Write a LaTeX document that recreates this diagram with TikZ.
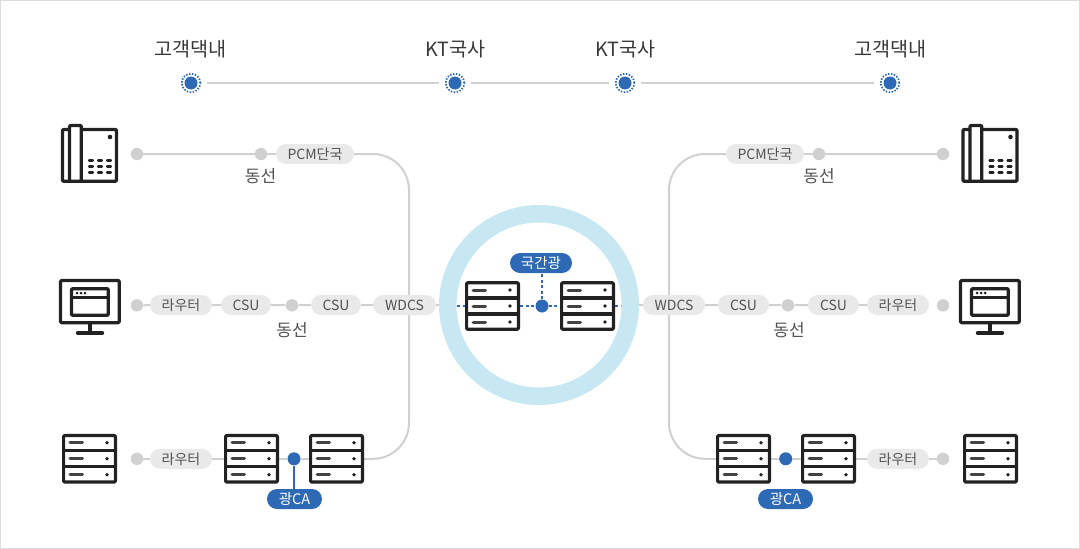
\documentclass[tikz,border=0pt]{standalone}
\usepackage{fontspec}
\setmainfont{Noto Sans CJK KR}
\usetikzlibrary{backgrounds}
\definecolor{bluec}{HTML}{2D69B5}
\definecolor{grayl}{HTML}{D0D0D0}
\definecolor{pillc}{HTML}{E9E9E9}
\definecolor{ringc}{HTML}{C7E8F3}
\definecolor{inkc}{HTML}{222222}
\definecolor{frame}{HTML}{DDDDDD}
\tikzset{
  pill/.style={rounded corners=10pt,fill=pillc,text=black!68,minimum height=20pt,inner sep=0pt,font=\fontsize{14}{14}\selectfont,text height=13.5pt,text depth=2.5pt},
  bluepill/.style={rounded corners=10pt,fill=bluec,text=white,minimum height=20pt,inner sep=0pt,font=\fontsize{14.5}{14}\selectfont,text height=13.5pt,text depth=2.5pt},
  graydot/.style={circle,fill=grayl,minimum size=12.4pt,inner sep=0pt},
  bluedot/.style={circle,fill=bluec,minimum size=13pt,inner sep=0pt},
  dotring/.style={circle,draw=bluec,line width=1.7pt,dash pattern=on 1.5pt off 1.5pt,minimum size=18.5pt,inner sep=0pt},
  wire/.style={draw=grayl,line width=2pt},
  bluewire/.style={draw=bluec,line width=2pt},
  bluedash/.style={draw=bluec,line width=2pt,dash pattern=on 3pt off 2.5pt},
  head/.style={text=black!78,inner sep=0pt,font=\fontsize{19.6}{20}\selectfont},
  sub/.style={text=black!68,inner sep=0pt,font=\fontsize{17}{17}\selectfont},
  ink/.style={draw=inkc,line width=3.2pt,line join=round},
  servbox/.style={ink,fill=white,rounded corners=1pt,minimum width=51.8pt,minimum height=46.5pt,inner sep=0pt},
}
\newcommand{\ServerIcon}[3]{%
  \node[servbox] (#1) at (#2,#3) {};
  \begin{scope}[shift={(#2,#3)}]
    \draw[ink] (-26,-8) -- (26,-8) (-26,8) -- (26,8);
    \foreach \ry in {-16,0,16}{
      \draw[inkc!85,line width=3pt,line cap=round] (-19.5,\ry) -- (-7,\ry);
      \fill[inkc] (17.5,\ry) circle (1.9pt);
    }
  \end{scope}}
\newcommand{\PhoneIcon}[2]{%
  \begin{scope}[shift={(#2,0)}]
    \node[ink,rounded corners=1pt,fill=white,minimum width=54pt,minimum height=51.8pt,inner sep=0pt] (#1) at (89.5,155.4) {};
    \draw[ink,fill=white,rounded corners=1pt] (69.5,181.3) -- (69.5,125.5) -- (81.3,125.5) -- (81.3,181.3) -- cycle;
    \fill[inkc] (110,137) circle (2.3pt);
    \foreach \ry in {160.7,166.6,172.3}\foreach \rx in {91,100,109}{
      \draw[inkc,line width=2.8pt,line cap=round] (\rx-1.8,\ry) -- (\rx+1.8,\ry);
    }
  \end{scope}}
\newcommand{\MonitorIcon}[2]{%
  \begin{scope}[shift={(#2,0)}]
    \node[ink,rounded corners=1pt,fill=white,minimum width=58.7pt,minimum height=42.2pt,inner sep=0pt] (#1) at (89.9,301.6) {};
    \draw[ink,rounded corners=1pt] (71.5,288.7) rectangle (108.3,315.3);
    \draw[ink] (71.5,297.5) -- (108.3,297.5);
    \foreach \rx in {77,81,85} \fill[inkc] (\rx,293) circle (1.5pt);
    \draw[ink] (90,323) -- (90,332);
    \draw[inkc,line width=3.4pt,line cap=round] (77.5,333) -- (102.5,333);
  \end{scope}}
\begin{document}
\begin{tikzpicture}[x=1pt,y=-1pt]
\useasboundingbox (0,0) rectangle (1080,549);
\draw[frame,line width=1pt] (0.5,0.5) rectangle (1079.5,548.5);

% header
\node[head] (h1) at (190.5,49.5) {고객댁내};
\node[head] (h2) at (455.5,49.5) {KT국사};
\node[head] (h3) at (625.5,49.5) {KT국사};
\node[head] (h4) at (890.5,49.5) {고객댁내};
\foreach \n/\x in {t1/191,t2/455,t3/625,t4/890}{
  \node[bluedot] (\n) at (\x,83) {};
  \node[dotring] (\n r) at (\x,83) {};
}

% ring
\node[circle,draw=ringc,line width=17.5pt,minimum size=182.5pt,inner sep=0pt] (ring) at (539,305) {};

% icons
\PhoneIcon{phoneL}{0}
\PhoneIcon{phoneR}{900.5}
\MonitorIcon{monL}{0}
\MonitorIcon{monR}{900}
\ServerIcon{srvL1}{89.5}{458.8}
\ServerIcon{srvL2}{251.5}{458.8}
\ServerIcon{srvL3}{336.5}{458.8}
\ServerIcon{srvC1}{492.5}{306}
\ServerIcon{srvC2}{587.5}{306}
\ServerIcon{srvR1}{743.5}{458.8}
\ServerIcon{srvR2}{828.5}{458.8}
\ServerIcon{srvR3}{990.5}{458.8}

% row 1
\node[graydot] (a1) at (137,154) {};
\node[graydot] (a2) at (261,154) {};
\node[pill,minimum width=78pt] (a3) at (315,154) {PCM단국};
\node[sub] (a4) at (260.5,176) {동선};
\node[pill,minimum width=78pt] (b3) at (765,154) {PCM단국};
\node[graydot] (b2) at (819,154) {};
\node[graydot] (b1) at (943,154) {};
\node[sub] (b4) at (819,176) {동선};

% row 2
\node[graydot] (c1) at (137,305.3) {};
\node[pill,minimum width=62pt] (c2) at (181,305) {라우터};
\node[pill,minimum width=50pt] (c3) at (246,305) {CSU};
\node[graydot] (c4) at (292,305.3) {};
\node[pill,minimum width=50pt] (c5) at (336,305) {CSU};
\node[pill,minimum width=63pt] (c6) at (404.5,305) {WDCS};
\node[sub] (c7) at (292,330) {동선};
\node[pill,minimum width=62pt] (d6) at (674,305) {WDCS};
\node[pill,minimum width=51pt] (d5) at (743.5,305) {CSU};
\node[graydot] (d4) at (788,305.3) {};
\node[pill,minimum width=51pt] (d3) at (833.5,305) {CSU};
\node[pill,minimum width=62pt] (d2) at (898,305) {라우터};
\node[graydot] (d1) at (943,305.3) {};
\node[sub] (d7) at (789,330) {동선};

% row 3
\node[graydot] (e1) at (137,458.8) {};
\node[pill,minimum width=62pt] (e2) at (181,458.8) {라우터};
\node[bluedot] (e3) at (294,458.8) {};
\node[bluepill,minimum width=55pt] (e4) at (294.5,499) {광CA};
\node[bluedot] (f3) at (785.7,458.8) {};
\node[bluepill,minimum width=55pt] (f4) at (785.5,499) {광CA};
\node[pill,minimum width=62pt] (f2) at (898,458.8) {라우터};
\node[graydot] (f1) at (943,458.8) {};

% centre
\node[bluedot] (g1) at (542,306) {};
\node[bluepill,minimum width=62pt] (g2) at (541,263) {국간광};
\coordinate (g3) at (457,306);
\coordinate (g4) at (622,306);
\coordinate (cL) at (409,305);
\coordinate (cR) at (669,305);

\begin{scope}[on background layer]
  \draw[wire,shorten <=9.5pt,shorten >=9.5pt] (t1) -- (t2);
  \draw[wire,shorten <=9.5pt,shorten >=9.5pt] (t2) -- (t3);
  \draw[wire,shorten <=9.5pt,shorten >=9.5pt] (t3) -- (t4);
  \draw[wire] (a1) -- (a2) -- (a3);
  \draw[wire,rounded corners=36pt] (a3.east) -| (cL) |- (srvL3.east);
  \draw[wire] (b1) -- (b2) -- (b3);
  \draw[wire,rounded corners=36pt] (b3.west) -| (cR) |- (srvR1.west);
  \draw[wire] (c1) -- (c2) -- (c3) -- (c4) -- (c5) -- (c6) -- (ring);
  \draw[wire] (ring) -- (d6) -- (d5) -- (d4) -- (d3) -- (d2);
  \draw[wire] (e1) -- (e2) -- (srvL2);
  \draw[wire] (srvL2) -- (e3) -- (srvL3);
  \draw[wire] (srvR1) -- (f3) -- (srvR2) -- (f2) -- (f1);
  \draw[bluewire] (e3) -- (e3 |- e4.north);
  \draw[bluedash] (g3) -- (srvC1.west);
  \draw[bluedash] (srvC1.east) -- (g1);
  \draw[bluedash] (g1) -- (srvC2.west);
  \draw[bluedash] (srvC2.east) -- (g4);
  \draw[bluedash] (g1) -- (g1 |- g2.south);
\end{scope}
\end{tikzpicture}
\end{document}
